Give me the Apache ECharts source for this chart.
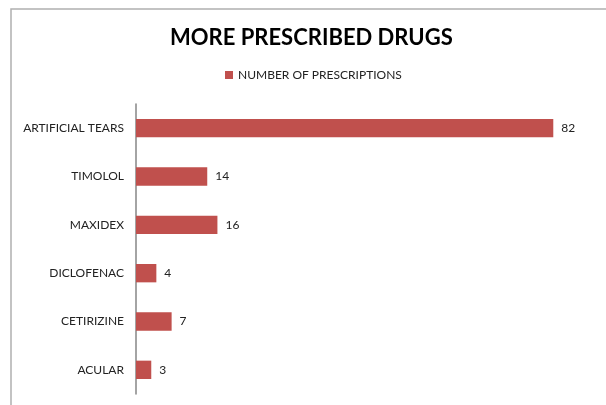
<!DOCTYPE html>
<html><head><meta charset="utf-8">
<script src="https://cdn.jsdelivr.net/npm/echarts@6/dist/echarts.min.js"></script>
<style>html,body{margin:0;padding:0;background:#fff}#c{width:606px;height:405px}</style>
</head><body><div id="c"></div>
<script>
const categories = ['ARTIFICIAL TEARS','TIMOLOL','MAXIDEX','DICLOFENAC','CETIRIZINE','ACULAR'];
const prescriptions = [82,14,16,4,7,3];
const seriesName = 'NUMBER OF PRESCRIPTIONS';
const chart = echarts.init(document.getElementById('c'));
const font = 'Lato, "Open Sans", sans-serif';
chart.setOption({
  animation:false,
  backgroundColor:'#fff',
  graphic:[{type:'rect',shape:{x:11,y:9,width:700,height:500},style:{fill:'none',stroke:'#b0b0b0',lineWidth:1.5},silent:true}],
  title:{text:'MORE PRESCRIBED DRUGS',left:170,top:27,padding:0,textStyle:{fontFamily:font,fontSize:22,fontWeight:'bold',color:'#000'}},
  legend:{top:69,left:225,padding:0,itemWidth:8,itemHeight:8,icon:'rect',itemGap:4,textStyle:{fontFamily:font,fontSize:12,color:'#222'},data:[seriesName]},
  grid:{left:136,right:12,top:104,bottom:11,containLabel:false},
  xAxis:{type:'value',min:0,max:90,show:false},
  yAxis:{type:'category',inverse:true,data:categories,
    axisLine:{show:true,lineStyle:{color:'#868686',width:1.5}},axisTick:{show:false},
    axisLabel:{fontFamily:font,fontSize:12,color:'#222',margin:12}},
  series:[{name:seriesName,type:'bar',data:prescriptions,barCategoryGap:'62%',
    itemStyle:{color:'#C0504D'},
    label:{show:true,position:'right',distance:8,fontFamily:font,fontSize:12,color:'#222'}}]
});
</script></body></html>
